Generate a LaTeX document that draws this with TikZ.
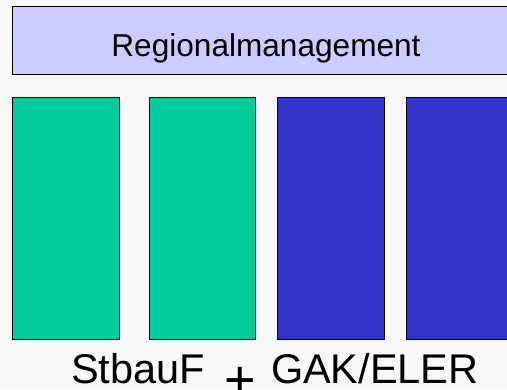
\documentclass[tikz,border=0pt]{standalone}
\usepackage{fontspec}
\setmainfont{Liberation Sans}
\definecolor{bgc}{HTML}{F8F8F8}
\definecolor{topc}{HTML}{CCCCFF}
\definecolor{greenc}{HTML}{00CC99}
\definecolor{bluec}{HTML}{3333CC}
\tikzset{
  bar/.style={draw=black, line width=1bp},
  lbl/.style={inner sep=0pt, outer sep=0pt, text=black, text depth=0pt},
  biglbl/.style={lbl, font=\fontsize{41.5bp}{48bp}\selectfont},
}
\begin{document}
\begin{tikzpicture}[x=1bp, y=-1bp]
\useasboundingbox (0,0) rectangle (507,389);
\clip (0,0) rectangle (507,389);
\fill[bgc] (0,0) rectangle (507,389);
\draw[bar, fill=topc] (12.7,6) rectangle (520,74);
\node[lbl, anchor=base, font=\fontsize{31.6bp}{36bp}\selectfont] (rm) at (266,56) {Regionalmanagement};
\draw[bar, fill=greenc] (12.7,97.3) rectangle (119.3,339.3);
\draw[bar, fill=greenc] (149.3,97.3) rectangle (255.7,339.3);
\draw[bar, fill=bluec] (277.7,97.3) rectangle (384,339.3);
\draw[bar, fill=bluec] (406.3,97.3) rectangle (520,339.3);
\node[biglbl, anchor=base west] (st) at (71,383) {StbauF};
\node[lbl, anchor=base, font=\fontsize{54bp}{60bp}\selectfont] (plus) at (240,383) {\raisebox{-15bp}[0pt][0pt]{+}};
\node[biglbl, anchor=base west] (gak) at (271,383) {GAK/ELER};
\end{tikzpicture}
\end{document}
